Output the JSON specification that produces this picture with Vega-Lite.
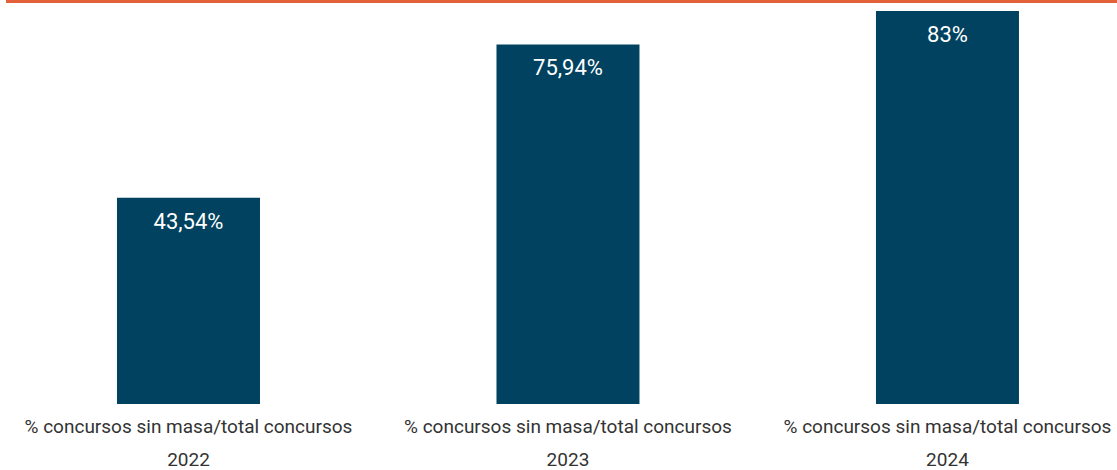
{
  "$schema": "https://vega.github.io/schema/vega-lite/v6.json",
  "autosize": "none",
  "width": 1111,
  "height": 402.5,
  "padding": {"left": 6, "top": 1.5, "right": 0, "bottom": 66},
  "background": "white",
  "config": {"view": {"stroke": null}, "font": "Roboto"},
  "data": {"values": [
    {"cat": "% concursos sin masa/total concursos|2022", "value": 43.54, "label": "43,54%"},
    {"cat": "% concursos sin masa/total concursos|2023", "value": 75.94, "label": "75,94%"},
    {"cat": "% concursos sin masa/total concursos|2024", "value": 83, "label": "83%"}
  ]},
  "encoding": {
    "x": {"field": "cat", "type": "nominal", "sort": null,
      "scale": {"paddingInner": 0.6232, "paddingOuter": 0.2754, "align": 0.531},
      "axis": {"title": null, "labelAngle": 0, "labelExpr": "split(datum.label, '|')", "domain": false, "ticks": false,
        "labelFontSize": 19, "labelColor": "#333333", "labelLineHeight": 33, "labelPadding": 13, "labelBaseline": "top", "labelLimit": 0}}
  },
  "layer": [
    {"mark": {"type": "bar", "color": "#00425F"},
     "encoding": {"y": {"field": "value", "type": "quantitative", "scale": {"domain": [0, 85], "nice": false, "zero": true}, "axis": null}}},
    {"mark": {"type": "text", "color": "white", "fontSize": 22, "baseline": "alphabetic", "dy": 31},
     "encoding": {"y": {"field": "value", "type": "quantitative"}, "text": {"field": "label"}}},
    {"mark": {"type": "rule", "color": "#E2603A", "strokeWidth": 3},
     "encoding": {"y": {"datum": 85}, "x": {"value": 0}, "x2": {"value": "width"}}}
  ]
}
